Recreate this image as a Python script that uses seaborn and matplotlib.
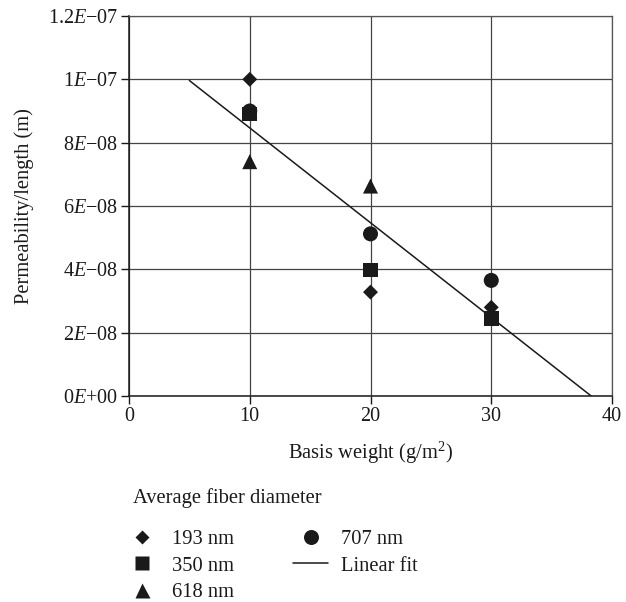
import numpy as np
import pandas as pd
import matplotlib
matplotlib.use("Agg")
import matplotlib.pyplot as plt
from matplotlib.lines import Line2D
import seaborn as sns

# values
basis_weight = [10, 20, 30]
perm_193 = [1.00e-7, 3.28e-8, 2.80e-8]
perm_350 = [8.90e-8, 3.98e-8, 2.45e-8]
perm_618 = [7.40e-8, 6.63e-8, 2.45e-8]
perm_707 = [9.00e-8, 5.12e-8, 3.65e-8]

diameters = ["707 nm", "618 nm", "193 nm", "350 nm"]  # drawing order
series = {"193 nm": perm_193, "350 nm": perm_350,
          "618 nm": perm_618, "707 nm": perm_707}

xticks = [0, 10, 20, 30, 40]
yticks = [0, 2e-8, 4e-8, 6e-8, 8e-8, 1e-7, 1.2e-7]
ytick_labels = ["0E+00", "2E-08", "4E-08", "6E-08", "8E-08", "1E-07", "1.2E-07"]

rows = []
for d in diameters:
    for x, y in zip(basis_weight, series[d]):
        rows.append({"weight": x, "perm": y, "diameter": d})
df = pd.DataFrame(rows)

# linear fit over all points
slope, intercept = np.polyfit(df["weight"], df["perm"], 1)
x_end = -intercept / slope
fit = pd.DataFrame({"weight": [5, x_end]})
fit["perm"] = intercept + slope * fit["weight"]

sns.set_theme(style="white")
plt.rcParams["font.family"] = ["Liberation Serif", "DejaVu Serif"]
plt.rcParams["mathtext.fontset"] = "custom"
plt.rcParams["mathtext.rm"] = "Liberation Serif"
plt.rcParams["mathtext.it"] = "Liberation Serif:italic"
fs = 14.8

fig = plt.figure(figsize=(6.26, 6.02), dpi=100)
ax = fig.add_axes([129 / 626, 1 - 396 / 602, (612 - 129) / 626, (396 - 16) / 602])

markers = {"193 nm": "D", "350 nm": "s", "618 nm": "^", "707 nm": "o"}
sizes = {"193 nm": 58, "350 nm": 110, "618 nm": 117, "707 nm": 117}

sns.lineplot(data=fit, x="weight", y="perm", color="#1a1a1a", lw=1.1, ax=ax, zorder=2)
sns.scatterplot(data=df, x="weight", y="perm", style="diameter", size="diameter",
                markers=markers, sizes=sizes, color="#1a1a1a", edgecolor="none",
                legend=False, ax=ax, zorder=3)

ax.set_xlim(0, 40)
ax.set_ylim(0, 1.2e-7)
ax.set_xticks(xticks)
ax.set_xticklabels([str(t) for t in xticks])
ax.set_yticks(yticks)
ax.set_yticklabels([l[:l.index("E")] + r"$\mathit{E}$" + l[l.index("E") + 1:].replace("-", "\u2212")
                    for l in ytick_labels])
ax.tick_params(axis="both", direction="out", length=6, width=1, color="#1a1a1a",
               labelsize=14.5, pad=2, labelcolor="#1a1a1a", bottom=True, left=True)
ax.grid(True, color="#444444", lw=0.9)
ax.set_axisbelow(True)
for side in ["left", "bottom"]:
    ax.spines[side].set_color("#1a1a1a")
    ax.spines[side].set_linewidth(1.1)
for side in ["top", "right"]:
    ax.spines[side].set_color("#555555")
    ax.spines[side].set_linewidth(0.9)

ax.set_xlabel(r"Basis weight (g/m$^2$)", fontsize=fs, color="#1a1a1a", labelpad=10)
ax.set_ylabel("Permeability/length (m)", fontsize=fs, color="#1a1a1a", labelpad=10)

fig.text(133 / 626, 1 - 498 / 602, "Average fiber diameter", fontsize=fs,
         color="#1a1a1a", ha="left", va="center")

handles = [Line2D([], [], ls="none", marker="D", ms=7.6, color="#1a1a1a", mec="none"),
           Line2D([], [], ls="none", marker="s", ms=10.5, color="#1a1a1a", mec="none"),
           Line2D([], [], ls="none", marker="^", ms=10.8, color="#1a1a1a", mec="none"),
           Line2D([], [], ls="none", marker="o", ms=10.8, color="#1a1a1a", mec="none"),
           Line2D([], [], color="#1a1a1a", lw=1.1)]
labels = ["193 nm", "350 nm", "618 nm", "707 nm", "Linear fit"]
fig.legend(handles, labels, loc="upper left", bbox_to_anchor=(124.5 / 626, 1 - 530 / 602),
           ncol=2, frameon=False, fontsize=fs, borderpad=0, borderaxespad=0,
           handlelength=1.7, handletextpad=0.6, columnspacing=2.9, labelspacing=0.33,
           labelcolor="#1a1a1a")

fig.savefig("out.png", dpi=100)
